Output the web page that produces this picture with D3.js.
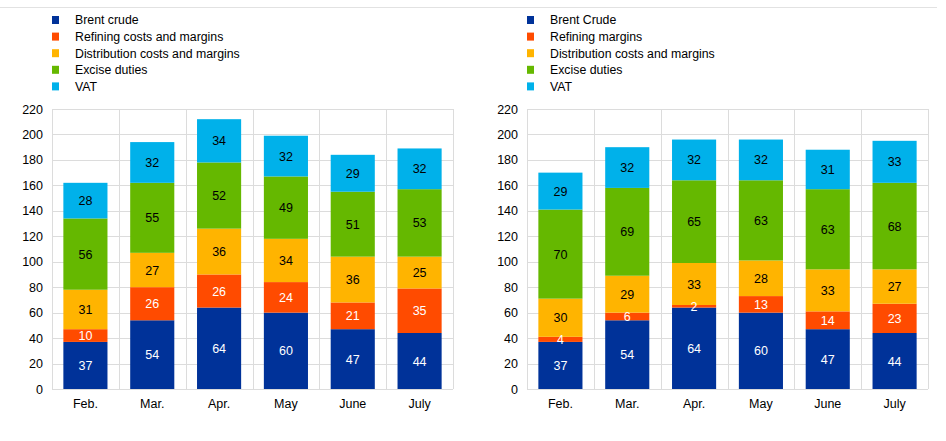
<!DOCTYPE html>
<html>
<head>
<meta charset="utf-8">
<script src="https://cdn.jsdelivr.net/npm/d3@7"></script>
<style>
  body { margin: 0; background: #fff; }
  svg { display: block; font-family: "Liberation Sans", Arial, sans-serif; }
</style>
</head>
<body>
<div id="chart"></div>
<script>
// data
const months = ['Feb.', 'Mar.', 'Apr.', 'May', 'June', 'July'];
const yTicks = [0, 20, 40, 60, 80, 100, 120, 140, 160, 180, 200, 220];

const seriesKeys = ['brent', 'refining', 'distribution', 'excise', 'vat'];
const leftLabels  = ['Brent crude', 'Refining costs and margins', 'Distribution costs and margins', 'Excise duties', 'VAT'];
const rightLabels = ['Brent Crude', 'Refining margins', 'Distribution costs and margins', 'Excise duties', 'VAT'];

const leftBrent        = [37, 54, 64, 60, 47, 44];
const leftRefining     = [10, 26, 26, 24, 21, 35];
const leftDistribution = [31, 27, 36, 34, 36, 25];
const leftExcise       = [56, 55, 52, 49, 51, 53];
const leftVat          = [28, 32, 34, 32, 29, 32];

const rightBrent        = [37, 54, 64, 60, 47, 44];
const rightRefining     = [4, 6, 2, 13, 14, 23];
const rightDistribution = [30, 29, 33, 28, 33, 27];
const rightExcise       = [70, 69, 65, 63, 63, 68];
const rightVat          = [29, 32, 32, 32, 31, 33];

const COLORS = {
  brent: '#003299', refining: '#ff4b00', distribution: '#ffb400',
  excise: '#65b800', vat: '#00b1ea', grid: '#dcdcdc', text: '#000',
};
const LABEL_FILL = {
  brent: '#fff', refining: '#fff', distribution: '#000', excise: '#000', vat: '#000',
};

const W = 946, H = 441;
const svg = d3.select('#chart').append('svg').attr('width', W).attr('height', H);

// thin rule on top
svg.append('line')
  .attr('x1', 0).attr('x2', 937).attr('y1', 7.5).attr('y2', 7.5)
  .attr('stroke', '#e2e2e2').attr('stroke-width', 1);

function toRows(cols) {
  return months.map((m, i) => {
    const r = { month: m };
    seriesKeys.forEach((k, j) => { r[k] = cols[j][i]; });
    return r;
  });
}

function drawChart({ left, right, rows, labels }) {
  const top = 109, bottom = 389;
  const g = svg.append('g');

  const x = d3.scaleBand().domain(months).range([left, right]).paddingInner(0.34).paddingOuter(0.17);
  const xCat = d3.scaleBand().domain(months).range([left, right]);
  const y = d3.scaleLinear().domain([0, 220]).range([bottom, top]);

  // grid
  g.selectAll('.hgrid').data(yTicks).join('line')
    .attr('x1', left).attr('x2', right)
    .attr('y1', d => Math.round(y(d)) + 0.5).attr('y2', d => Math.round(y(d)) + 0.5)
    .attr('stroke', COLORS.grid).attr('stroke-width', 1);
  const vEdges = months.map(m => xCat(m)).concat([right]);
  g.selectAll('.vgrid').data(vEdges).join('line')
    .attr('x1', d => Math.round(d) + 0.5).attr('x2', d => Math.round(d) + 0.5)
    .attr('y1', top).attr('y2', bottom)
    .attr('stroke', COLORS.grid).attr('stroke-width', 1);

  // y axis labels
  const yAxis = g.append('g').attr('transform', `translate(${left - 9},0)`)
    .call(d3.axisLeft(y).tickValues(yTicks).tickSize(0).tickPadding(0));
  yAxis.select('.domain').remove();
  yAxis.selectAll('text').attr('font-size', 12.5).attr('fill', COLORS.text)
    .attr('font-family', '"Liberation Sans", Arial, sans-serif');

  // x axis labels
  const xAxis = g.append('g').attr('transform', `translate(0,${bottom + 10})`)
    .call(d3.axisBottom(xCat).tickSize(0).tickPadding(0));
  xAxis.select('.domain').remove();
  xAxis.selectAll('text').attr('font-size', 12.5).attr('fill', COLORS.text)
    .attr('font-family', '"Liberation Sans", Arial, sans-serif');

  // stacked bars
  const stacked = d3.stack().keys(seriesKeys)(rows);
  const layer = g.selectAll('.layer').data(stacked).join('g')
    .attr('fill', d => COLORS[d.key]);
  layer.selectAll('rect').data(d => d).join('rect')
    .attr('x', d => x(d.data.month))
    .attr('width', x.bandwidth())
    .attr('y', d => y(d[1]))
    .attr('height', d => y(d[0]) - y(d[1]));

  // value labels
  stacked.forEach(s => {
    g.selectAll(null).data(s).join('text')
      .attr('x', d => x(d.data.month) + x.bandwidth() / 2)
      .attr('y', d => (y(d[0]) + y(d[1])) / 2)
      .attr('dy', '0.36em')
      .attr('text-anchor', 'middle')
      .attr('font-size', 12.5)
      .attr('fill', LABEL_FILL[s.key])
      .text(d => d.data[s.key]);
  });

  // legend
  const lg = g.append('g');
  labels.forEach((lab, i) => {
    const ly = 20 + i * 16.6;
    lg.append('rect')
      .attr('x', left).attr('y', ly - 4).attr('width', 7).attr('height', 8)
      .attr('fill', COLORS[seriesKeys[i]]);
    lg.append('text')
      .attr('x', left + 23).attr('y', ly).attr('dy', '0.35em')
      .attr('font-size', 12.3).attr('fill', COLORS.text)
      .text(lab);
  });
}

drawChart({
  left: 52, right: 453,
  rows: toRows([leftBrent, leftRefining, leftDistribution, leftExcise, leftVat]),
  labels: leftLabels,
});
drawChart({
  left: 527, right: 928,
  rows: toRows([rightBrent, rightRefining, rightDistribution, rightExcise, rightVat]),
  labels: rightLabels,
});
</script>
</body>
</html>
